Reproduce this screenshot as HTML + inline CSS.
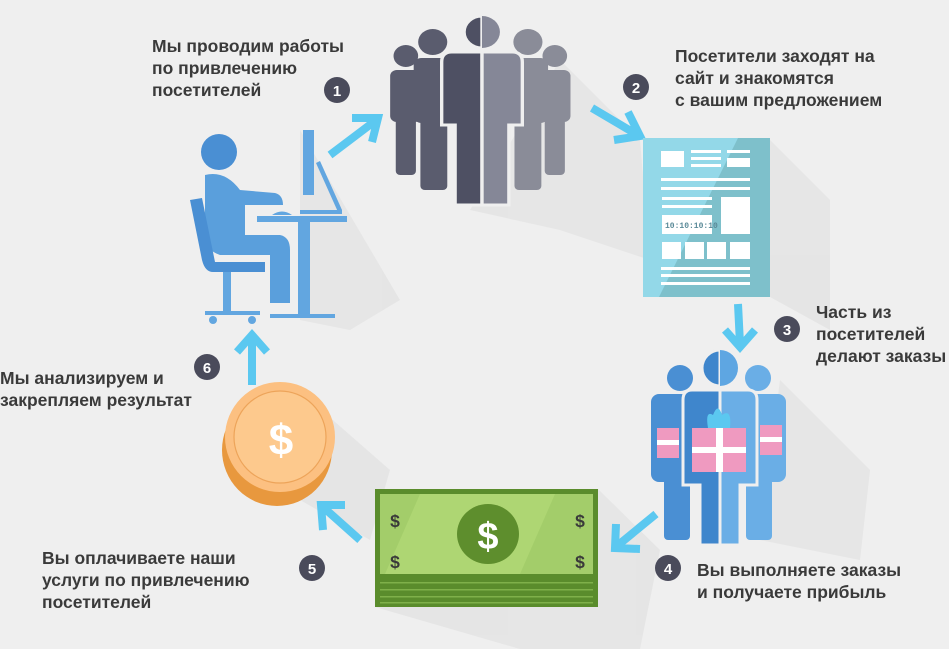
<!DOCTYPE html>
<html><head><meta charset="utf-8"><style>
html,body{margin:0;padding:0;background:#efefef}
svg{display:block}
text{font-family:"Liberation Sans",sans-serif;font-weight:bold;font-size:17.5px;fill:#3a3a3a}
.b{fill:#4a4b5b}
.bt{fill:#fff;font-size:15px;text-anchor:middle}
</style></head><body>
<svg width="949" height="649" viewBox="0 0 949 649" xmlns="http://www.w3.org/2000/svg">
<rect width="949" height="649" fill="#efefef"/>
<!-- shadows -->
<g fill="#e2e2e2" opacity="0.7">
<polygon points="300,130 350,215 400,300 350,330 300,320"/>
<polygon points="560,60 640,140 650,260 560,230 470,210"/>
<polygon points="770,140 830,200 830,330 770,297"/>
<polygon points="780,380 870,470 860,560 760,540"/>
<polygon points="598,489 660,550 640,649 520,649 375,607"/>
<polygon points="310,400 390,470 370,540 300,500"/>
</g>
<!-- texts -->
<text x="152" y="52">Мы проводим работы</text>
<text x="152" y="74">по привлечению</text>
<text x="152" y="96">посетителей</text>
<text x="675" y="62">Посетители заходят на</text>
<text x="675" y="84">сайт и знакомятся</text>
<text x="675" y="106">с вашим предложением</text>
<text x="816" y="318">Часть из</text>
<text x="816" y="340">посетителей</text>
<text x="816" y="362">делают заказы</text>
<text x="697" y="576">Вы выполняете заказы</text>
<text x="697" y="598">и получаете прибыль</text>
<text x="42" y="564">Вы оплачиваете наши</text>
<text x="42" y="586">услуги по привлечению</text>
<text x="42" y="608">посетителей</text>
<text x="0" y="384">Мы анализируем и</text>
<text x="0" y="406">закрепляем результат</text>
<!-- badges -->
<circle class="b" cx="337" cy="90" r="13"/><text class="bt" x="337" y="96">1</text>
<circle class="b" cx="636" cy="87" r="13"/><text class="bt" x="636" y="93">2</text>
<circle class="b" cx="787" cy="329" r="13"/><text class="bt" x="787" y="335">3</text>
<circle class="b" cx="668" cy="568" r="13"/><text class="bt" x="668" y="574">4</text>
<circle class="b" cx="312" cy="568" r="13"/><text class="bt" x="312" y="574">5</text>
<circle class="b" cx="207" cy="367" r="13"/><text class="bt" x="207" y="373">6</text>
<!-- arrows -->
<g stroke="#5bc8f0" stroke-width="8" fill="none" stroke-linejoin="miter">
<path d="M330,155 L375,121 M352,118 L378,118 L372,142"/>
<path d="M592,108 L636,134 M628,112 L640,136 L614,140"/>
<path d="M738,304 L740,344 M725,330 L740,347 L755,330"/>
<path d="M656,514 L617,546 M616,524 L615,548 L640,549"/>
<path d="M360,540 L323,507 M345,505 L321,505 L323,530"/>
<path d="M252,385 L252,337 M237,352 L252,335 L267,352"/>
</g>
<!-- person at desk -->
<g fill="#62a6e0">
<circle cx="219" cy="152" r="18" fill="#4a8fd3"/>
<path d="M205,175 Q225,170 240,190 L275,193 Q283,195 283,205 L245,205 L245,235 L280,235 Q290,237 290,250 L290,303 L270,303 L270,255 L220,255 Q205,250 205,235 Z" fill="#5a9fdc"/>
<path d="M190,200 L202,198 L215,262 L265,262 L265,272 L213,272 Q205,272 202,260 Z" fill="#4a8fd3"/>
<rect x="223" y="272" width="8" height="40"/>
<rect x="205" y="311" width="55" height="4"/>
<circle cx="213" cy="320" r="4"/><circle cx="252" cy="320" r="4"/>
<rect x="303" y="130" width="11" height="65"/>
<polygon points="316,163 320,161 342,210 338,212"/>
<rect x="300" y="210" width="42" height="4"/>
<path d="M272,215 Q282,208 292,215 Z"/>
<rect x="257" y="216" width="90" height="6"/>
<rect x="298" y="222" width="12" height="92"/>
<rect x="270" y="314" width="65" height="4"/>
</g>
<!-- crowd -->
<g transform="translate(482,0) scale(1.12,1) translate(-482,0)">
<g fill="#5a5c6e">
<circle cx="414" cy="56" r="11"/><rect x="400" y="70" width="28" height="52" rx="6"/><rect x="405" y="110" width="18" height="65" rx="4"/>
<circle cx="438" cy="42" r="13"/><rect x="421" y="58" width="36" height="65" rx="7"/><rect x="427" y="110" width="24" height="80" rx="4"/>
</g>
<g fill="#8a8c98">
<circle cx="547" cy="56" r="11"/><rect x="533" y="70" width="28" height="52" rx="6"/><rect x="538" y="110" width="18" height="65" rx="4"/>
<circle cx="523" cy="42" r="13"/><rect x="505" y="58" width="36" height="65" rx="7"/><rect x="511" y="110" width="24" height="80" rx="4"/>
</g>
<g stroke="#efefef" stroke-width="3">
<path d="M466,32 a16,16 0 0 1 16,-16 v32 a16,16 0 0 1 -16,-16z" fill="#4e5063"/>
<path d="M498,32 a16,16 0 0 0 -16,-16 v32 a16,16 0 0 0 16,-16z" fill="#858797" stroke="none"/>
<path d="M482,52 L455,52 Q446,52 446,62 L446,125 L458,125 L458,205 L482,205 Z" fill="#4e5063"/>
<path d="M482,52 L509,52 Q518,52 518,62 L518,125 L506,125 L506,205 L482,205 Z" fill="#858797"/>
</g>
</g>
<!-- document -->
<rect x="643" y="138" width="127" height="159" fill="#93d8e8"/>
<polygon points="738,138 770,138 770,297 659,297" fill="#7ec0cb"/>
<g fill="#fff">
<rect x="661" y="151" width="23" height="16"/><rect x="691" y="150" width="30" height="3"/><rect x="691" y="157" width="30" height="3"/><rect x="691" y="164" width="30" height="3"/>
<rect x="727" y="150" width="23" height="3"/><rect x="727" y="158" width="23" height="9"/>
<rect x="661" y="178" width="89" height="3"/><rect x="661" y="187" width="89" height="3"/>
<rect x="662" y="197" width="50" height="3"/><rect x="662" y="205" width="50" height="3"/>
<rect x="721" y="197" width="29" height="37"/><rect x="662" y="215" width="50" height="19"/>
<rect x="662" y="242" width="19" height="17"/><rect x="685" y="242" width="19" height="17"/><rect x="707" y="242" width="19" height="17"/><rect x="730" y="242" width="20" height="17"/>
<rect x="661" y="267" width="89" height="3"/><rect x="661" y="274" width="89" height="3"/><rect x="661" y="282" width="89" height="3"/>
</g>
<text x="665" y="228" style="font-size:8px;fill:#5a8a98;font-family:'Liberation Mono',monospace">10:10:10:10</text>
<!-- blue people with gifts -->
<g fill="#4a8fd3">
<circle cx="680" cy="378" r="13"/><rect x="651" y="394" width="38" height="88" rx="8"/><rect x="664" y="460" width="26" height="80" rx="4"/>
</g>
<g fill="#6aaee6">
<circle cx="758" cy="378" r="13"/><rect x="748" y="394" width="38" height="88" rx="8"/><rect x="746" y="460" width="26" height="80" rx="4"/>
</g>
<g stroke="#efefef" stroke-width="3">
<path d="M720,350 a18,18 0 0 0 0,36 z" fill="#3f86cc"/>
<path d="M720,350 a18,18 0 0 1 0,36 z" fill="#5ea6e2" stroke="none"/>
<path d="M720,390 L692,390 Q683,390 683,400 L683,485 L700,485 L700,545 L720,545 Z" fill="#3f86cc"/>
<path d="M720,390 L748,390 Q757,390 757,400 L757,485 L740,485 L740,545 L720,545 Z" fill="#6aaee6"/>
</g>
<g>
<rect x="657" y="428" width="22" height="30" fill="#ef9ac0"/>
<rect x="760" y="425" width="22" height="30" fill="#ef9ac0"/>
<path d="M708,428 Q705,410 713,415 Q718,402 722,415 Q732,408 730,428 Z" fill="#5bc8f0"/>
<rect x="692" y="428" width="54" height="44" fill="#ef9ac0"/>
<rect x="716" y="428" width="7" height="44" fill="#fff"/>
<rect x="692" y="447" width="54" height="6" fill="#fff"/>
<rect x="657" y="440" width="22" height="5" fill="#fff"/>
<rect x="760" y="437" width="22" height="5" fill="#fff"/>
</g>
<!-- money -->
<rect x="375" y="489" width="223" height="118" fill="#5a8c2c"/>
<rect x="380" y="494" width="213" height="80" fill="#a3cd6a"/>
<polygon points="420,494 555,494 520,574 385,574" fill="#aed673"/>
<g fill="#7fb04a"><rect x="380" y="582" width="213" height="1.5"/><rect x="380" y="589" width="213" height="1.5"/><rect x="380" y="596" width="213" height="1.5"/><rect x="380" y="602" width="213" height="1.5"/></g>
<ellipse cx="488" cy="534" rx="31" ry="30" fill="#5e8e2d"/>
<text x="488" y="549" style="font-size:38px;fill:#fff;text-anchor:middle">$</text>
<g style="font-size:26px;fill:#5e8e2d;text-anchor:middle">
<text x="395" y="527">$</text><text x="395" y="568">$</text><text x="580" y="527">$</text><text x="580" y="568">$</text>
</g>
<!-- coin -->
<ellipse cx="277" cy="450" rx="55" ry="56" fill="#e8983e"/>
<ellipse cx="280" cy="437" rx="55" ry="55" fill="#fcc081"/>
<circle cx="280" cy="437" r="46" fill="#fdc98d" stroke="#eda45a" stroke-width="1.2"/>
<text x="281" y="455" style="font-size:44px;fill:#fff;text-anchor:middle">$</text>
</svg>
</body></html>
